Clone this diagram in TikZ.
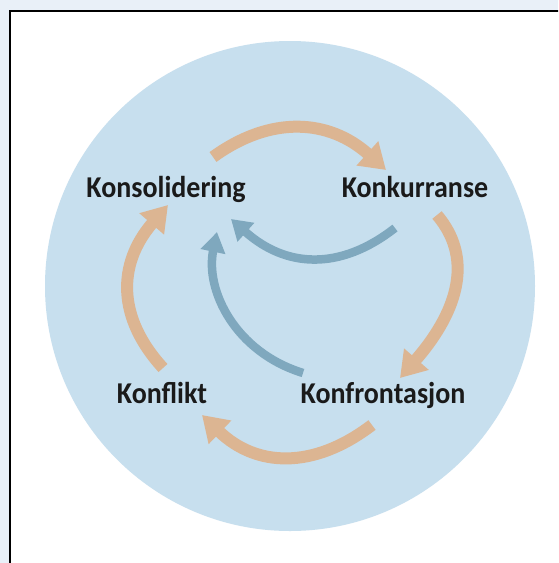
\documentclass[tikz,border=0pt]{standalone}
\usepackage{fontspec}
\setmainfont{Carlito}
\usetikzlibrary{arrows.meta}
\definecolor{outerbg}{HTML}{E9F0F8}
\definecolor{disc}{HTML}{C7DFEE}
\definecolor{tan}{HTML}{DCB592}
\definecolor{steel}{HTML}{7FA8BE}
\definecolor{ink}{HTML}{1A1A1A}
\newcommand{\tallt}[1]{\scalebox{1}[1.08]{#1}}
\tikzset{
  lbl/.style={anchor=base, font=\fontsize{28}{32}\selectfont\bfseries, text=ink, inner sep=0pt},
  cyc/.style={draw=tan, line width=12pt, -{Triangle[length=25pt,width=31pt]}},
  back/.style={draw=steel, line width=8.5pt, -{Triangle[length=20pt,width=24pt]}}
}
\begin{document}
\begin{tikzpicture}[x=1pt,y=-1pt]
\useasboundingbox (0,0) rectangle (558,563);
\clip (0,0) rectangle (558,563);
\fill[outerbg] (0,0) rectangle (558,563);
\draw[line width=2.5pt, fill=white] (10,11) rectangle (600,600);
\fill[disc] (290,286) circle (245);
\node[lbl] (kons) at (166,197) {\tallt{Konsolidering}};
\node[lbl] (konk) at (415,197) {\tallt{Konkurranse}};
\node[lbl] (konl) at (162,403) {\tallt{Konflikt}};
\node[lbl] (konf) at (383,403) {\tallt{Konfrontasjon}};
\coordinate (a1s) at (213,157); \coordinate (a1e) at (386,170);
\coordinate (a2s) at (437,215); \coordinate (a2e) at (400,378);
\coordinate (a3s) at (372,425); \coordinate (a3e) at (202,415);
\coordinate (a4s) at (163,368); \coordinate (a4e) at (168,205);
\coordinate (b1s) at (395,228); \coordinate (b1e) at (231,219);
\coordinate (b2s) at (303,373); \coordinate (b2e) at (217,232);
\draw[cyc] (a1s) .. controls (271,115) and (329,119) .. (a1e);
\draw[cyc] (a2s) .. controls (472,256) and (461,308) .. (a2e);
\draw[cyc] (a3s) .. controls (313,470) and (256,467) .. (a3e);
\draw[cyc] (a4s) .. controls (117,318) and (117,264) .. (a4e);
\draw[back] (b1s) .. controls (340,271) and (286,268) .. (b1e);
\draw[back] (b2s) .. controls (235,352) and (205,290) .. (b2e);
\end{tikzpicture}
\end{document}
